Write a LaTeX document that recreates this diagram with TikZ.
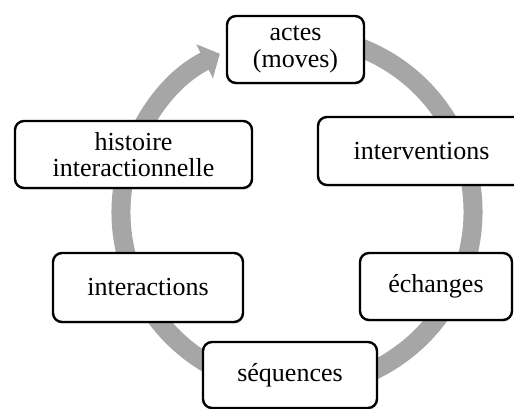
\documentclass[tikz,border=0pt]{standalone}
\usepackage{fontspec}
\setmainfont{Liberation Serif}
\usetikzlibrary{arrows.meta,shadows,calc}
\definecolor{ringgray}{HTML}{A6A6A6}
\tikzset{
  cyclebox/.style={draw=black, line width=2.4pt, fill=white, rounded corners=9pt,
    align=center, inner sep=0pt,
    font=\fontsize{26}{26.5}\selectfont,
    drop shadow={opacity=0.18, shadow xshift=1pt, shadow yshift=-2pt}},
  ring/.style={draw=ringgray, line width=19pt,
    -{Triangle[length=17pt,width=37pt]}}
}
\begin{document}
\begin{tikzpicture}[x=1pt,y=1pt]
\clip (0,0) rectangle (514,409);
\fill[white] (0,0) rectangle (514,409);
\coordinate (C) at (297,197);
\draw[ring] ($(C)+(80:176)$) arc[start angle=80, end angle=-244, radius=176];
\node[cyclebox, minimum width=137pt, minimum height=67pt] (actes) at (295.5,359.5) {actes\\(moves)};
\node[cyclebox, minimum width=207pt, minimum height=68pt] (interv) at (421.5,258) {interventions};
\node[cyclebox, minimum width=152pt, minimum height=67pt] (ech) at (436,122.5) {échanges};
\node[cyclebox, minimum width=174pt, minimum height=66pt] (seq) at (290,34) {séquences};
\node[cyclebox, minimum width=190pt, minimum height=69pt] (inter) at (148,121.5) {interactions};
\node[cyclebox, minimum width=237pt, minimum height=67pt] (hist) at (133.5,254.5) {histoire\\interactionnelle};
\end{tikzpicture}
\end{document}
